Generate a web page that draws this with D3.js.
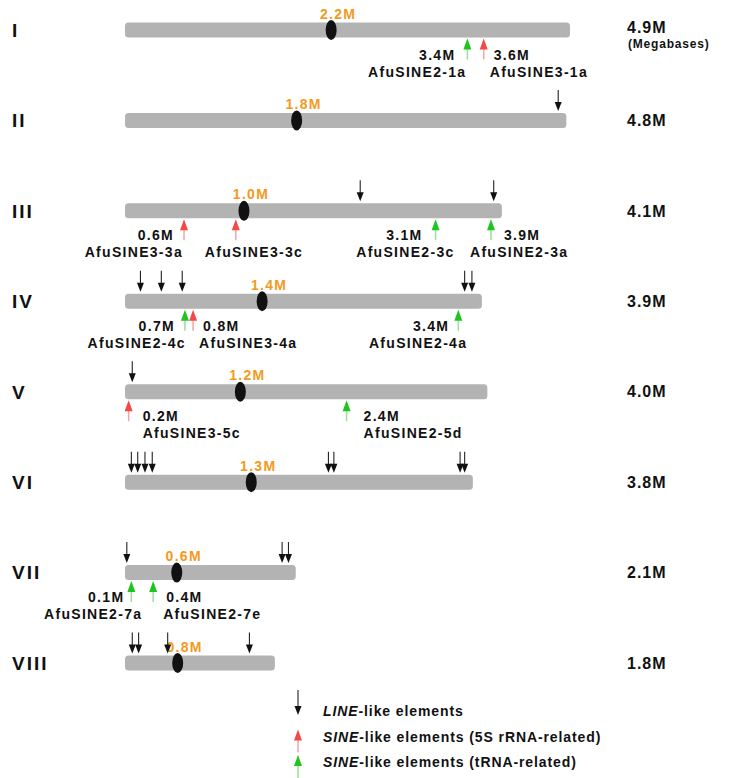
<!DOCTYPE html>
<html><head><meta charset="utf-8">
<script src="https://cdn.jsdelivr.net/npm/d3@7"></script>
<style>body{margin:0;background:#fff}</style>
</head><body><svg id="chart" width="733" height="778"></svg>
<script>
// ---------- DATA ----------
const chromosomes = ["I","II","III","IV","V","VI","VII","VIII"];
const lengthLabels = ["4.9M","4.8M","4.1M","3.9M","4.0M","3.8M","2.1M","1.8M"];
// drawn bar lengths (Mb, as scaled in the schematic)
const barLengthMb = [4.90,4.86,4.15,3.93,3.99,3.83,1.88,1.65];
const centromereMb = [2.27,1.89,1.31,1.51,1.27,1.39,0.57,0.58];
const centromereLabels = ["2.2M","1.8M","1.0M","1.4M","1.2M","1.3M","0.6M","0.8M"];
// LINE-like element positions per chromosome (Mb)
const lineElements = [
  [],
  [4.77],
  [2.59,4.06],
  [0.17,0.40,0.63,3.74,3.82],
  [0.08],
  [0.07,0.14,0.22,0.30,2.24,2.30,3.69,3.74],
  [0.02,1.73,1.80],
  [0.08,0.15,0.47,1.37]
];
// SINE-like elements
const sineChrom  = ["I","I","III","III","III","III","IV","IV","IV","V","V","VII","VII"];
const sineMb     = [3.77,3.95,0.65,1.22,3.42,4.03,0.66,0.75,3.67,0.04,2.44,0.07,0.31];
const sineType   = ["tRNA","5S","5S","5S","tRNA","tRNA","tRNA","5S","tRNA","5S","tRNA","tRNA","tRNA"];
const sineValues = ["3.4M","3.6M","0.6M","","3.1M","3.9M","0.7M","0.8M","3.4M","0.2M","2.4M","0.1M","0.4M"];
const sineNames  = ["AfuSINE2-1a","AfuSINE3-1a","AfuSINE3-3a","AfuSINE3-3c","AfuSINE2-3c","AfuSINE2-3a",
                    "AfuSINE2-4c","AfuSINE3-4a","AfuSINE2-4a","AfuSINE3-5c","AfuSINE2-5d","AfuSINE2-7a","AfuSINE2-7e"];
const legendTypes = ["LINE","5S","tRNA"];
const legendItalic = ["LINE","SINE","SINE"];
const legendRest = ["-like elements","-like elements (5S rRNA-related)","-like elements (tRNA-related)"];

// ---------- LAYOUT (label placement relative to arrows) ----------
const sineLabelLayout = [
  {nd:-12,na:"end",  md:-1, ma:"end"},
  {nd:10, na:"start",md:6,  ma:"start"},
  {nd:-10,na:"end",  md:-1, ma:"end"},
  {nd:0,  na:"end",  md:-31,ma:"start"},
  {nd:-13,na:"end",  md:19, ma:"end"},
  {nd:13, na:"start",md:-21,ma:"start"},
  {nd:-10,na:"end",  md:1,  ma:"end"},
  {nd:10, na:"start",md:6,  ma:"start"},
  {nd:-9, na:"end",  md:9,  ma:"end"},
  {nd:14, na:"start",md:14, ma:"start"},
  {nd:17, na:"start",md:17, ma:"start"},
  {nd:-7, na:"end",  md:11, ma:"end"},
  {nd:13, na:"start",md:10, ma:"start"}
];

// ---------- DRAW ----------
const W = 733, H = 778;
const FONT = "'Liberation Sans', Arial, Helvetica, sans-serif";
const svg = d3.select("#chart");
svg.append("rect").attr("width",W).attr("height",H).attr("fill","#fff");

const x = d3.scaleLinear().domain([0,4.9]).range([125,570]);
const y = d3.scalePoint().domain(chromosomes).range([30,663]);
const BAR_H = 15;
const color = {LINE:"#111111","5S":"#f34848",tRNA:"#1fc41f"};
const shaft = {LINE:"#777777","5S":"#f7a3a3",tRNA:"#98e298"};
const TXT = "#111111", ORANGE = "#f39a1e";

function downArrow(g, cx, tip, len, type){
  g.append("line").attr("x1",cx).attr("x2",cx).attr("y1",tip-len).attr("y2",tip-6)
    .attr("stroke",type==="LINE"?"#222":shaft[type]).attr("stroke-width",1.1);
  g.append("path").attr("d",`M${cx-3.5},${tip-9} L${cx+3.5},${tip-9} L${cx},${tip} Z`).attr("fill",color[type]);
}
function upArrow(g, cx, tip, len, type){
  g.append("line").attr("x1",cx).attr("x2",cx).attr("y1",tip+8).attr("y2",tip+len)
    .attr("stroke",shaft[type]).attr("stroke-width",1.5);
  g.append("path").attr("d",`M${cx-4},${tip+11} L${cx+4},${tip+11} L${cx},${tip} Z`).attr("fill",color[type]);
}

const rows = svg.selectAll("g.row").data(chromosomes).join("g").attr("class","row");

// chromosome name
rows.append("text").attr("x",12).attr("y",d=>y(d)).attr("dy","0.36em")
  .attr("font-family",FONT).attr("font-weight","bold").attr("font-size",19)
  .attr("letter-spacing",2).attr("fill",TXT).text(d=>d);

// bars
rows.append("rect").attr("x",x(0)).attr("y",d=>y(d)-BAR_H/2)
  .attr("width",(d,i)=>x(barLengthMb[i])-x(0)).attr("height",BAR_H)
  .attr("rx",3.5).attr("fill","#b3b3b3");

// centromeres
rows.append("ellipse").attr("cx",(d,i)=>x(centromereMb[i])).attr("cy",d=>y(d))
  .attr("rx",5.5).attr("ry",10).attr("fill","#111");

// centromere labels
rows.append("text").attr("x",(d,i)=>x(centromereMb[i])+7).attr("y",d=>y(d)-BAR_H/2-4)
  .attr("text-anchor","middle").attr("font-family",FONT).attr("font-weight","bold")
  .attr("font-size",14).attr("letter-spacing",1.3).attr("fill",ORANGE)
  .text((d,i)=>centromereLabels[i]);

// length labels
rows.append("text").attr("x",627).attr("y",d=>y(d)).attr("dy",(d,i)=>i===0?"0.2em":"0.36em")
  .attr("font-family",FONT).attr("font-weight","bold").attr("font-size",16)
  .attr("letter-spacing",1).attr("fill",TXT).text((d,i)=>lengthLabels[i]);
svg.append("text").attr("x",628).attr("y",y("I")+18)
  .attr("font-family",FONT).attr("font-weight","bold").attr("font-size",12)
  .attr("letter-spacing",0.8).attr("fill",TXT).text("(Megabases)");

// LINE elements
rows.each(function(d,i){
  const g = d3.select(this);
  lineElements[i].forEach(p => downArrow(g, x(p), y(d)-BAR_H/2-2, 21, "LINE"));
});

// SINE elements
sineMb.forEach((p,i)=>{
  const g = svg.append("g");
  const cy = y(sineChrom[i]);
  const tip = cy + BAR_H/2 + 1;
  const cx = x(p);
  upArrow(g, cx, tip, 21, sineType[i]);
  const L = sineLabelLayout[i];
  if (sineValues[i]) {
    g.append("text").attr("x",cx+L.nd).attr("y",tip+21).attr("text-anchor",L.na)
      .attr("font-family",FONT).attr("font-weight","bold").attr("font-size",14)
      .attr("letter-spacing",1.3).attr("fill",TXT).text(sineValues[i]);
  }
  g.append("text").attr("x",cx+L.md).attr("y",tip+38).attr("text-anchor",L.ma)
    .attr("font-family",FONT).attr("font-weight","bold").attr("font-size",14)
    .attr("letter-spacing",1.3).attr("fill",TXT).text(sineNames[i]);
});

// legend
const legY = d3.scalePoint().domain(legendTypes).range([711,762]);
legendTypes.forEach((t,i)=>{
  const g = svg.append("g");
  const cy = legY(t);
  if (t==="LINE") downArrow(g, 298, cy+4, 25, t);
  else upArrow(g, 298, cy-7, 23, t);
  const tx = g.append("text").attr("x",323).attr("y",cy+5)
    .attr("font-family",FONT).attr("font-weight","bold").attr("font-size",14)
    .attr("letter-spacing",0.9).attr("fill",TXT);
  tx.append("tspan").attr("font-style","italic").text(legendItalic[i]);
  tx.append("tspan").text(legendRest[i]);
});
</script></body></html>
